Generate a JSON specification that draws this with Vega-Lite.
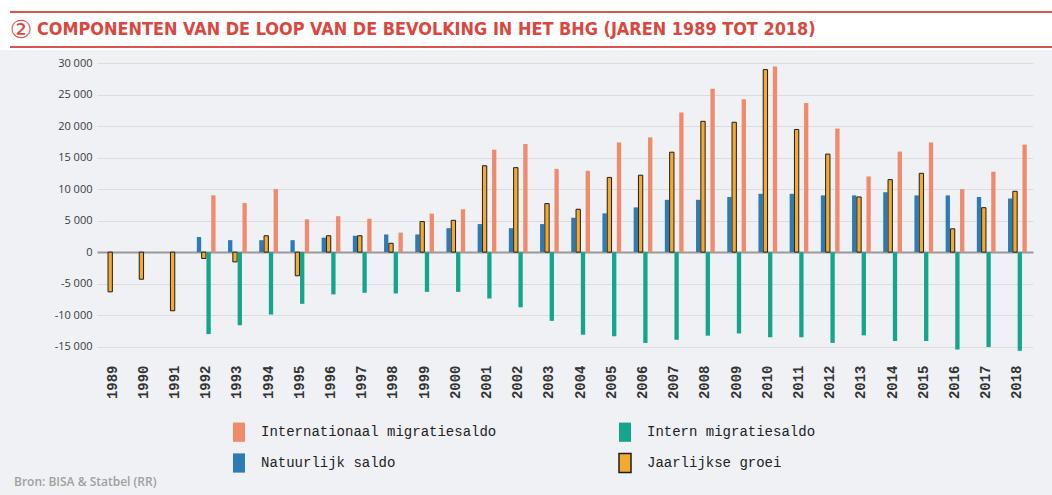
{
  "$schema": "https://vega.github.io/schema/vega-lite/v6.json",
  "background": "#eff1f5",
  "padding": {"left": 0, "top": 0, "right": 0, "bottom": 8},
  "spacing": 7,
  "config": {
    "locale": {"number": {"decimal": ",", "thousands": " ", "grouping": [3], "currency": ["", " €"], "minus": "-"}},
    "view": {"stroke": null}
  },
  "title": {"text": "Bron: BISA & Statbel (RR)", "orient": "bottom", "anchor": "start", "dx": 14, "offset": 1, "font": "Open Sans", "fontSize": 12, "fontWeight": 600, "color": "#a0a0a0"},
  "vconcat": [
    {
      "width": 955,
      "height": 50,
      "data": {"values": [{}]},
      "layer": [
        {
          "mark": {"type": "rect", "color": "white"},
          "encoding": {
            "x": {"datum": -97, "type": "quantitative", "scale": {"domain": [0, 955], "nice": false, "zero": false}, "axis": null},
            "x2": {"datum": 955},
            "y": {"datum": 0, "type": "quantitative", "scale": {"domain": [0, 50], "nice": false, "reverse": true}, "axis": null},
            "y2": {"datum": 50}
          }
        },
        {
          "mark": {"type": "rule", "color": "#d9534f", "strokeWidth": 2},
          "encoding": {
            "x": {"datum": -87, "type": "quantitative"},
            "x2": {"datum": 955},
            "y": {"datum": 12, "type": "quantitative"}
          }
        },
        {
          "mark": {"type": "rule", "color": "#d9534f", "strokeWidth": 2},
          "encoding": {
            "x": {"datum": -87, "type": "quantitative"},
            "x2": {"datum": 955},
            "y": {"datum": 47, "type": "quantitative"}
          }
        },
        {
          "mark": {"type": "text", "text": "②", "font": "DejaVu Sans", "fontSize": 25, "color": "#d9473f", "align": "center", "baseline": "middle"},
          "encoding": {
            "x": {"datum": -76, "type": "quantitative"},
            "y": {"datum": 30, "type": "quantitative"}
          }
        },
        {
          "mark": {"type": "text", "text": "COMPONENTEN VAN DE LOOP VAN DE BEVOLKING IN HET BHG (JAREN 1989 TOT 2018)", "font": "DejaVu Sans Condensed, Liberation Sans Narrow, Roboto", "fontWeight": "bold", "fontSize": 17.9, "color": "#d9473f", "align": "left", "baseline": "middle"},
          "encoding": {
            "x": {"datum": -60, "type": "quantitative"},
            "y": {"datum": 30, "type": "quantitative"}
          }
        }
      ]
    },
    {
      "width": 936,
      "height": 290,
      "data": {"values": [
        {"year": "1989", "component": "Jaarlijkse groei", "value": -6300},
        {"year": "1990", "component": "Jaarlijkse groei", "value": -4300},
        {"year": "1991", "component": "Jaarlijkse groei", "value": -9300},
        {"year": "1992", "component": "Natuurlijk saldo", "value": 2400},
        {"year": "1992", "component": "Jaarlijkse groei", "value": -1000},
        {"year": "1992", "component": "Intern migratiesaldo", "value": -13000},
        {"year": "1992", "component": "Internationaal migratiesaldo", "value": 9000},
        {"year": "1993", "component": "Natuurlijk saldo", "value": 1900},
        {"year": "1993", "component": "Jaarlijkse groei", "value": -1550},
        {"year": "1993", "component": "Intern migratiesaldo", "value": -11600},
        {"year": "1993", "component": "Internationaal migratiesaldo", "value": 7800},
        {"year": "1994", "component": "Natuurlijk saldo", "value": 1900},
        {"year": "1994", "component": "Jaarlijkse groei", "value": 2600},
        {"year": "1994", "component": "Intern migratiesaldo", "value": -9900},
        {"year": "1994", "component": "Internationaal migratiesaldo", "value": 10000},
        {"year": "1995", "component": "Natuurlijk saldo", "value": 1900},
        {"year": "1995", "component": "Jaarlijkse groei", "value": -3750},
        {"year": "1995", "component": "Intern migratiesaldo", "value": -8200},
        {"year": "1995", "component": "Internationaal migratiesaldo", "value": 5200},
        {"year": "1996", "component": "Natuurlijk saldo", "value": 2300},
        {"year": "1996", "component": "Jaarlijkse groei", "value": 2600},
        {"year": "1996", "component": "Intern migratiesaldo", "value": -6700},
        {"year": "1996", "component": "Internationaal migratiesaldo", "value": 5700},
        {"year": "1997", "component": "Natuurlijk saldo", "value": 2600},
        {"year": "1997", "component": "Jaarlijkse groei", "value": 2600},
        {"year": "1997", "component": "Intern migratiesaldo", "value": -6450},
        {"year": "1997", "component": "Internationaal migratiesaldo", "value": 5300},
        {"year": "1998", "component": "Natuurlijk saldo", "value": 2800},
        {"year": "1998", "component": "Jaarlijkse groei", "value": 1400},
        {"year": "1998", "component": "Intern migratiesaldo", "value": -6550},
        {"year": "1998", "component": "Internationaal migratiesaldo", "value": 3100},
        {"year": "1999", "component": "Natuurlijk saldo", "value": 2800},
        {"year": "1999", "component": "Jaarlijkse groei", "value": 4850},
        {"year": "1999", "component": "Intern migratiesaldo", "value": -6300},
        {"year": "1999", "component": "Internationaal migratiesaldo", "value": 6100},
        {"year": "2000", "component": "Natuurlijk saldo", "value": 3800},
        {"year": "2000", "component": "Jaarlijkse groei", "value": 5050},
        {"year": "2000", "component": "Intern migratiesaldo", "value": -6300},
        {"year": "2000", "component": "Internationaal migratiesaldo", "value": 6800},
        {"year": "2001", "component": "Natuurlijk saldo", "value": 4450},
        {"year": "2001", "component": "Jaarlijkse groei", "value": 13700},
        {"year": "2001", "component": "Intern migratiesaldo", "value": -7350},
        {"year": "2001", "component": "Internationaal migratiesaldo", "value": 16250},
        {"year": "2002", "component": "Natuurlijk saldo", "value": 3800},
        {"year": "2002", "component": "Jaarlijkse groei", "value": 13400},
        {"year": "2002", "component": "Intern migratiesaldo", "value": -8750},
        {"year": "2002", "component": "Internationaal migratiesaldo", "value": 17150},
        {"year": "2003", "component": "Natuurlijk saldo", "value": 4450},
        {"year": "2003", "component": "Jaarlijkse groei", "value": 7700},
        {"year": "2003", "component": "Intern migratiesaldo", "value": -10900},
        {"year": "2003", "component": "Internationaal migratiesaldo", "value": 13200},
        {"year": "2004", "component": "Natuurlijk saldo", "value": 5450},
        {"year": "2004", "component": "Jaarlijkse groei", "value": 6800},
        {"year": "2004", "component": "Intern migratiesaldo", "value": -13100},
        {"year": "2004", "component": "Internationaal migratiesaldo", "value": 12900},
        {"year": "2005", "component": "Natuurlijk saldo", "value": 6150},
        {"year": "2005", "component": "Jaarlijkse groei", "value": 11850},
        {"year": "2005", "component": "Intern migratiesaldo", "value": -13350},
        {"year": "2005", "component": "Internationaal migratiesaldo", "value": 17400},
        {"year": "2006", "component": "Natuurlijk saldo", "value": 7100},
        {"year": "2006", "component": "Jaarlijkse groei", "value": 12200},
        {"year": "2006", "component": "Intern migratiesaldo", "value": -14400},
        {"year": "2006", "component": "Internationaal migratiesaldo", "value": 18200},
        {"year": "2007", "component": "Natuurlijk saldo", "value": 8300},
        {"year": "2007", "component": "Jaarlijkse groei", "value": 15850},
        {"year": "2007", "component": "Intern migratiesaldo", "value": -13900},
        {"year": "2007", "component": "Internationaal migratiesaldo", "value": 22150},
        {"year": "2008", "component": "Natuurlijk saldo", "value": 8300},
        {"year": "2008", "component": "Jaarlijkse groei", "value": 20750},
        {"year": "2008", "component": "Intern migratiesaldo", "value": -13250},
        {"year": "2008", "component": "Internationaal migratiesaldo", "value": 25900},
        {"year": "2009", "component": "Natuurlijk saldo", "value": 8750},
        {"year": "2009", "component": "Jaarlijkse groei", "value": 20600},
        {"year": "2009", "component": "Intern migratiesaldo", "value": -12900},
        {"year": "2009", "component": "Internationaal migratiesaldo", "value": 24250},
        {"year": "2010", "component": "Natuurlijk saldo", "value": 9250},
        {"year": "2010", "component": "Jaarlijkse groei", "value": 28950},
        {"year": "2010", "component": "Intern migratiesaldo", "value": -13500},
        {"year": "2010", "component": "Internationaal migratiesaldo", "value": 29450},
        {"year": "2011", "component": "Natuurlijk saldo", "value": 9250},
        {"year": "2011", "component": "Jaarlijkse groei", "value": 19450},
        {"year": "2011", "component": "Intern migratiesaldo", "value": -13500},
        {"year": "2011", "component": "Internationaal migratiesaldo", "value": 23650},
        {"year": "2012", "component": "Natuurlijk saldo", "value": 9000},
        {"year": "2012", "component": "Jaarlijkse groei", "value": 15550},
        {"year": "2012", "component": "Intern migratiesaldo", "value": -14400},
        {"year": "2012", "component": "Internationaal migratiesaldo", "value": 19600},
        {"year": "2013", "component": "Natuurlijk saldo", "value": 9000},
        {"year": "2013", "component": "Jaarlijkse groei", "value": 8750},
        {"year": "2013", "component": "Intern migratiesaldo", "value": -13200},
        {"year": "2013", "component": "Internationaal migratiesaldo", "value": 12000},
        {"year": "2014", "component": "Natuurlijk saldo", "value": 9500},
        {"year": "2014", "component": "Jaarlijkse groei", "value": 11500},
        {"year": "2014", "component": "Intern migratiesaldo", "value": -14100},
        {"year": "2014", "component": "Internationaal migratiesaldo", "value": 15950},
        {"year": "2015", "component": "Natuurlijk saldo", "value": 9000},
        {"year": "2015", "component": "Jaarlijkse groei", "value": 12500},
        {"year": "2015", "component": "Intern migratiesaldo", "value": -14100},
        {"year": "2015", "component": "Internationaal migratiesaldo", "value": 17400},
        {"year": "2016", "component": "Natuurlijk saldo", "value": 9000},
        {"year": "2016", "component": "Jaarlijkse groei", "value": 3700},
        {"year": "2016", "component": "Intern migratiesaldo", "value": -15450},
        {"year": "2016", "component": "Internationaal migratiesaldo", "value": 10000},
        {"year": "2017", "component": "Natuurlijk saldo", "value": 8750},
        {"year": "2017", "component": "Jaarlijkse groei", "value": 7050},
        {"year": "2017", "component": "Intern migratiesaldo", "value": -15050},
        {"year": "2017", "component": "Internationaal migratiesaldo", "value": 12750},
        {"year": "2018", "component": "Natuurlijk saldo", "value": 8500},
        {"year": "2018", "component": "Jaarlijkse groei", "value": 9650},
        {"year": "2018", "component": "Intern migratiesaldo", "value": -15650},
        {"year": "2018", "component": "Internationaal migratiesaldo", "value": 17050}
      ]},
      "mark": {"type": "bar", "strokeWidth": 1},
      "encoding": {
        "x": {
          "field": "year", "type": "nominal",
          "scale": {"paddingInner": 0.4, "paddingOuter": 0.2},
          "axis": {"title": null, "labelAngle": 270, "domain": false, "ticks": false, "grid": false, "labelFont": "Liberation Mono", "labelFontWeight": "bold", "labelFontSize": 14, "labelColor": "#333333", "labelPadding": 12}
        },
        "xOffset": {
          "field": "component", "type": "nominal",
          "sort": ["Natuurlijk saldo", "Jaarlijkse groei", "Intern migratiesaldo", "Internationaal migratiesaldo"],
          "scale": {"paddingInner": 0.1}
        },
        "y": {
          "field": "value", "type": "quantitative",
          "scale": {"domain": [-16000, 30000], "nice": false},
          "axis": {
            "title": null, "values": [-15000, -10000, -5000, 0, 5000, 10000, 15000, 20000, 25000, 30000],
            "domain": false, "ticks": false, "labelPadding": 5, "minExtent": 97,
            "labelFont": "Open Sans", "labelFontSize": 11, "labelColor": "#3a3a3a",
            "gridColor": {"condition": {"test": "datum.value === 0", "value": "#9a9a9a"}, "value": "#dcdcdc"},
            "gridWidth": {"condition": {"test": "datum.value === 0", "value": 2}, "value": 1}
          }
        },
        "color": {
          "field": "component", "type": "nominal",
          "scale": {
            "domain": ["Internationaal migratiesaldo", "Intern migratiesaldo", "Natuurlijk saldo", "Jaarlijkse groei"],
            "range": ["#ef8a6c", "#14a58c", "#2c7bb5", "#f4a92f"]
          },
          "legend": {
            "orient": "none", "legendX": 135, "legendY": 425, "columns": 2, "direction": "horizontal", "title": null,
            "symbolType": "M-1,-1.6H1V1.6H-1Z", "symbolSize": 144,
            "labelFont": "Liberation Mono", "labelFontSize": 14, "labelColor": "#222222",
            "labelOffset": 15, "columnPadding": 119, "rowPadding": 5, "labelLimit": 400
          }
        },
        "stroke": {
          "field": "component", "type": "nominal",
          "scale": {
            "domain": ["Internationaal migratiesaldo", "Intern migratiesaldo", "Natuurlijk saldo", "Jaarlijkse groei"],
            "range": ["transparent", "transparent", "transparent", "#1e1e1e"]
          },
          "legend": {
            "orient": "none", "legendX": 135, "legendY": 425, "columns": 2, "direction": "horizontal", "title": null,
            "symbolType": "M-1,-1.6H1V1.6H-1Z", "symbolSize": 144, "symbolStrokeWidth": 1.5,
            "labelFont": "Liberation Mono", "labelFontSize": 14, "labelColor": "#222222",
            "labelOffset": 15, "columnPadding": 119, "rowPadding": 5, "labelLimit": 400
          }
        }
      }
    }
  ]
}
